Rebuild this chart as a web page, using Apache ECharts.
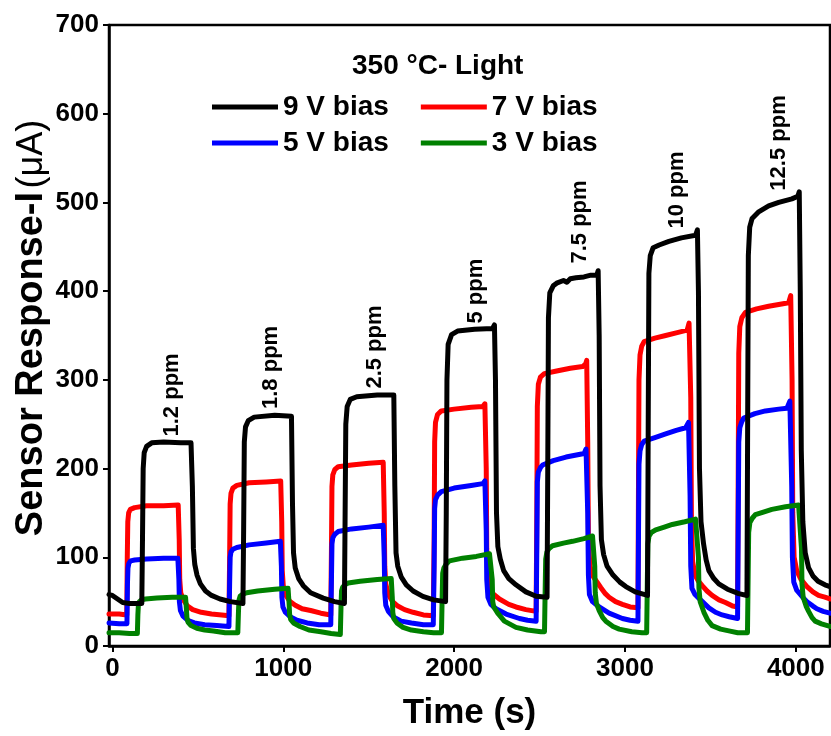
<!DOCTYPE html>
<html>
<head>
<meta charset="utf-8">
<script src="https://cdn.jsdelivr.net/npm/echarts@6/dist/echarts.min.js"></script>
<style>html,body{margin:0;padding:0;background:#fff;}#c{width:831px;height:736px;}</style>
</head>
<body>
<div id="c"></div>
<script>
// ---- data ([time s, current µA]) ----
var seriesNames = ['9 V bias', '7 V bias', '5 V bias', '3 V bias'];

var bias9V = [
  [-20,58],[0,57],[30,53],[60,49],[100,48],[172,48],
  [176,120],[180,200],[186,218],[200,225],[230,229],[300,230],[400,229],[460,229],
  [468,180],[474,110],[482,92],[495,80],[515,70],[545,62],[580,57],[630,53],[690,50],[764,48],
  [768,130],[772,230],[779,247],[795,254],[830,258],[950,260],[1048,259],
  [1054,160],[1060,105],[1070,88],[1090,76],[1117,68],[1160,60],[1234,54],[1300,50],[1358,48],
  [1362,150],[1366,250],[1374,270],[1392,278],[1430,281],[1550,283],[1647,283],
  [1653,180],[1660,105],[1670,90],[1690,78],[1720,69],[1760,62],[1817,56],[1880,52],[1950,50],
  [1954,150],[1958,300],[1965,340],[1985,351],[2020,355],[2120,357],[2225,358],[2236,362],
  [2242,300],[2248,150],[2256,112],[2270,98],[2290,85],[2320,76],[2362,69],[2420,61],[2480,56],[2544,55],
  [2548,200],[2552,370],[2560,398],[2580,406],[2600,409],[2640,412],[2660,410],[2680,414],[2713,415],[2760,416],[2800,418],[2835,418],[2843,423],
  [2849,350],[2854,180],[2862,120],[2875,103],[2895,90],[2930,80],[2970,72],[3005,67],[3060,61],[3132,57],
  [3136,250],[3140,420],[3148,440],[3165,449],[3200,452],[3257,456],[3330,460],[3413,463],[3424,469],
  [3430,400],[3436,200],[3445,140],[3460,115],[3475,97],[3491,85],[3520,76],[3549,70],[3600,64],[3666,59],[3714,57],
  [3718,250],[3722,440],[3730,472],[3744,482],[3780,489],[3841,496],[3900,500],[3977,504],[4012,507],[4020,512],
  [4026,400],[4032,220],[4041,140],[4055,105],[4075,88],[4100,79],[4130,73],[4170,69],[4200,67]
];

var bias7V = [
  [-20,36],[40,36],[84,35],
  [87,100],[90,140],[95,150],[105,154],[130,156],[200,158],[300,158],[385,159],
  [391,120],[394,75],[400,60],[415,52],[440,45],[470,41],[520,38],[580,36],[640,35],[682,34],
  [686,100],[689,160],[694,172],[705,178],[728,181],[800,184],[900,185],[985,186],
  [991,140],[994,85],[1000,68],[1015,57],[1040,50],[1070,46],[1110,42],[1160,40],[1220,37],[1278,35],
  [1282,110],[1285,180],[1290,193],[1302,199],[1321,202],[1400,204],[1500,206],[1585,207],
  [1591,150],[1594,90],[1600,70],[1615,58],[1640,50],[1670,45],[1710,41],[1760,38],[1820,35],[1878,34],
  [1883,120],[1886,230],[1891,252],[1903,261],[1925,265],[2000,267],[2100,269],[2168,270],[2180,273],
  [2188,200],[2191,110],[2198,70],[2220,60],[2265,53],[2320,47],[2362,44],[2420,41],[2480,39],
  [2484,150],[2487,270],[2493,295],[2505,303],[2528,307],[2600,310],[2680,313],[2752,315],[2770,318],[2776,322],
  [2782,230],[2786,120],[2795,90],[2815,78],[2840,71],[2858,66],[2885,59],[2907,55],[2945,50],[2985,47],[3030,44],[3076,43],
  [3079,180],[3082,300],[3088,328],[3098,338],[3112,343],[3175,347],[3238,350],[3300,353],[3364,356],[3375,364],
  [3385,280],[3389,140],[3396,95],[3410,80],[3430,73],[3452,68],[3480,62],[3510,57],[3550,52],[3588,49],[3630,45],[3659,44],
  [3663,200],[3666,330],[3672,360],[3684,370],[3705,376],[3770,380],[3841,383],[3900,385],[3958,387],[3970,395],
  [3978,300],[3982,150],[3990,100],[4005,85],[4030,75],[4065,67],[4100,61],[4133,57],[4170,55],[4200,53]
];

var bias5V = [
  [-20,26],[40,25],[85,25],
  [88,70],[91,88],[96,93],[106,96],[130,97],[200,98],[300,99],[383,99],
  [389,75],[392,50],[398,40],[412,34],[440,29],[480,26],[540,24],[610,23],[682,22],
  [686,70],[689,100],[694,106],[705,109],[728,111],[800,114],[900,116],[983,118],
  [989,90],[992,55],[998,44],[1012,38],[1040,33],[1080,29],[1140,26],[1210,24],[1278,24],
  [1282,75],[1285,115],[1290,122],[1302,126],[1321,129],[1400,132],[1500,134],[1585,136],
  [1591,100],[1594,60],[1600,46],[1615,39],[1642,33],[1690,28],[1750,26],[1820,24],[1878,24],
  [1883,90],[1886,155],[1891,165],[1903,170],[1925,174],[2000,178],[2100,181],[2168,183],[2180,186],
  [2188,130],[2191,75],[2198,55],[2215,47],[2245,42],[2304,36],[2382,31],[2430,29],[2480,28],
  [2484,110],[2487,185],[2493,196],[2505,201],[2518,204],[2580,209],[2655,213],[2761,217],[2772,222],
  [2782,150],[2786,80],[2792,58],[2810,50],[2849,44],[2907,37],[2985,31],[3030,29],[3076,28],
  [3079,120],[3082,205],[3088,220],[3098,227],[3112,231],[3175,235],[3238,239],[3300,243],[3355,246],[3372,252],
  [3381,170],[3385,90],[3392,65],[3410,58],[3442,52],[3491,43],[3530,38],[3569,35],[3610,33],[3659,31],
  [3663,140],[3666,230],[3672,246],[3684,253],[3695,257],[3760,262],[3822,265],[3900,267],[3948,268],[3965,276],
  [3976,180],[3980,100],[3988,72],[4005,63],[4040,55],[4065,50],[4100,45],[4123,42],[4160,39],[4200,37]
];

var bias3V = [
  [-20,15],[40,15],[100,14],[146,14],
  [149,35],[152,46],[158,50],[170,52],[193,53],[260,54],[350,55],[428,55],
  [433,42],[436,32],[442,27],[460,23],[494,20],[540,18],[592,17],[660,15],[734,15],
  [738,40],[741,52],[747,56],[760,58],[786,60],[850,62],[950,64],[1028,65],
  [1034,48],[1037,36],[1043,30],[1060,26],[1098,22],[1150,18],[1220,16],[1280,14],[1334,13],
  [1338,45],[1341,62],[1347,66],[1360,69],[1380,71],[1450,73],[1550,75],[1632,76],
  [1638,55],[1641,38],[1647,31],[1665,26],[1701,21],[1750,18],[1820,16],[1880,15],[1926,15],
  [1930,55],[1933,82],[1940,88],[1952,92],[1973,96],[2050,99],[2130,101],[2207,104],[2216,105],
  [2223,75],[2226,50],[2232,44],[2255,37],[2294,28],[2362,21],[2430,18],[2508,16],[2529,16],
  [2533,65],[2536,98],[2543,106],[2556,110],[2576,113],[2640,116],[2693,118],[2760,121],[2810,124],[2816,126],
  [2823,90],[2826,60],[2833,48],[2849,40],[2870,32],[2888,28],[2930,22],[2966,19],[3040,16],[3100,15],[3127,15],
  [3131,75],[3134,115],[3141,124],[3155,128],[3180,131],[3230,134],[3277,137],[3350,140],[3413,143],[3422,145],
  [3430,100],[3433,65],[3440,50],[3462,38],[3485,29],[3510,23],[3560,19],[3608,17],[3660,15],[3717,15],
  [3721,80],[3724,128],[3731,139],[3745,144],[3763,148],[3810,151],[3860,154],[3940,157],[4016,159],[4026,161],
  [4033,110],[4036,70],[4043,55],[4060,45],[4075,39],[4095,32],[4113,28],[4150,25],[4200,22]
];

var ppmLabels = ['1.2 ppm', '1.8 ppm', '2.5 ppm', '5 ppm', '7.5 ppm', '10 ppm', '12.5 ppm'];
var ppmLabelX = [350, 928, 1535, 2125, 2738, 3304, 3900];
var ppmLabelY = [283, 314, 337, 400, 478, 514, 567];

var xTickValues = [0, 1000, 2000, 3000, 4000];
var titleText = '350 °C- Light';

// ---- chart ----
var FONT = '"Liberation Sans", Arial, Helvetica, sans-serif';
var chart = echarts.init(document.getElementById('c'), null, {renderer: 'canvas'});

var annotData = ppmLabels.map(function (t, i) { return [ppmLabelX[i], ppmLabelY[i], t]; });

function lineSeries(name, data, color) {
  return {
    name: name, type: 'line', data: data, showSymbol: false, symbol: 'none',
    lineStyle: {color: color, width: 5, join: 'round', cap: 'round'},
    itemStyle: {color: color}, animation: false, z: 3
  };
}

chart.setOption({
  animation: false,
  backgroundColor: '#ffffff',
  title: {
    text: titleText, left: 352, top: 52, padding: 0,
    textStyle: {fontFamily: FONT, fontWeight: 'bold', fontSize: 28, color: '#000'}
  },
  legend: [
    {
      data: ['9 V bias', '7 V bias'], left: 212, top: 93, padding: 0, orient: 'horizontal',
      icon: 'rect', itemWidth: 66, itemHeight: 5, itemGap: 32,
      textStyle: {fontFamily: FONT, fontWeight: 'bold', fontSize: 28, color: '#000'}
    },
    {
      data: ['5 V bias', '3 V bias'], left: 212, top: 129, padding: 0, orient: 'horizontal',
      icon: 'rect', itemWidth: 66, itemHeight: 5, itemGap: 32,
      textStyle: {fontFamily: FONT, fontWeight: 'bold', fontSize: 28, color: '#000'}
    }
  ],
  grid: {
    left: 109, right: 1, top: 25, bottom: 81, containLabel: false,
    show: true, borderColor: '#000', borderWidth: 2.5, backgroundColor: 'transparent'
  },
  xAxis: {
    type: 'value', min: -20, max: 4200,
    name: 'Time (s)', nameLocation: 'middle', nameGap: 50,
    nameTextStyle: {fontFamily: FONT, fontWeight: 'bold', fontSize: 35, color: '#000'},
    axisLine: {show: true, onZero: false, lineStyle: {color: '#000', width: 2.5}},
    axisTick: {show: true, inside: false, length: 6, lineStyle: {color: '#000', width: 2}, customValues: xTickValues},
    axisLabel: {
      fontFamily: FONT, fontWeight: 'bold', fontSize: 26, color: '#000', margin: 10,
      customValues: xTickValues, formatter: function (v) { return String(v); }
    },
    splitLine: {show: false}
  },
  yAxis: {
    type: 'value', min: 0, max: 700, interval: 100,
    axisLine: {show: true, onZero: false, lineStyle: {color: '#000', width: 2.5}},
    axisTick: {show: true, inside: false, length: 6, lineStyle: {color: '#000', width: 2}},
    axisLabel: {fontFamily: FONT, fontWeight: 'bold', fontSize: 26, color: '#000', margin: 10,
      formatter: function (v) { return String(v); }},
    splitLine: {show: false}
  },
  graphic: [
    {
      type: 'text', x: 32, y: 328, rotation: Math.PI / 2,
      style: {
        text: '{b|Sensor Response-I} {r|(μA)}',
        align: 'center', verticalAlign: 'middle',
        rich: {
          b: {fontFamily: FONT, fontWeight: 'bold', fontSize: 38, fill: '#000', color: '#000'},
          r: {fontFamily: FONT, fontWeight: 'normal', fontSize: 36, fill: '#000', color: '#000'}
        }
      }
    }
  ],
  series: [
    lineSeries('7 V bias', bias7V, '#ff0000'),
    lineSeries('5 V bias', bias5V, '#0000ff'),
    lineSeries('3 V bias', bias3V, '#008000'),
    lineSeries('9 V bias', bias9V, '#000000'),
    {
      name: 'ppm', type: 'scatter', data: annotData, symbolSize: 2,
      itemStyle: {color: 'rgba(0,0,0,0)'}, z: 5, silent: true,
      labelLayout: {hideOverlap: false},
      label: {
        show: true, position: 'inside', rotate: 90, opacity: 1,
        formatter: function (p) { return p.data[2]; },
        fontFamily: FONT, fontWeight: 'bold', fontSize: 22, color: '#000000',
        textBorderWidth: 0, textBorderColor: 'transparent'
      }
    }
  ]
});
</script>
</body>
</html>
